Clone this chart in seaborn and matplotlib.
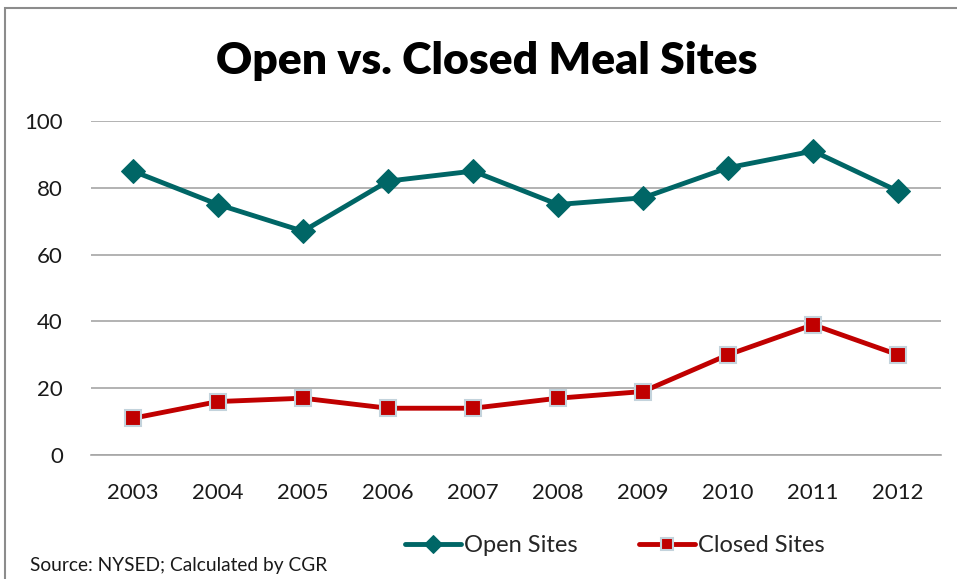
import pandas as pd
import matplotlib.pyplot as plt
import seaborn as sns
from matplotlib.patches import Rectangle

# --- Data ---
years = [2003, 2004, 2005, 2006, 2007, 2008, 2009, 2010, 2011, 2012]
open_sites = [85, 75, 67, 82, 85, 75, 77, 86, 91, 79]
closed_sites = [11, 16, 17, 14, 14, 17, 19, 30, 39, 30]

teal = '#006666'
red = '#C00000'

sns.set_theme(style='white')
plt.rcParams['font.family'] = ['Lato', 'DejaVu Sans']

fig = plt.figure(figsize=(9.57, 5.79), dpi=100)
ax = fig.add_axes([0.0946, 0.2142, 0.8882, 0.5768])

# outer chart frame (cut off at right and bottom like the source)
fig.patches.append(Rectangle((5 / 957, -0.1), 1.2, 1.1 - 8 / 579, transform=fig.transFigure,
                             fill=False, edgecolor='#8c8c8c', linewidth=1.5, zorder=0))

sns.lineplot(x=years, y=open_sites, ax=ax, color=teal, linewidth=3.5, marker='D',
             markersize=12, markeredgecolor=teal, label='Open Sites', zorder=3)
sns.lineplot(x=years, y=closed_sites, ax=ax, color=red, linewidth=3.5, marker='s',
             markersize=12, markeredgecolor='#c3d3dc', markeredgewidth=1.5,
             label='Closed Sites', zorder=3)

ax.set_xlim(2002.5, 2012.5)
ax.set_ylim(0, 100)
ax.set_yticks(range(0, 101, 20))
ax.set_xticks(years)
ax.set_xticklabels([str(y) for y in years])
ax.yaxis.grid(True, color='#a6a6a6', linewidth=1.2)
ax.xaxis.grid(False)
for s in ['top', 'right', 'left']:
    ax.spines[s].set_visible(False)
ax.spines['bottom'].set_color('#a6a6a6')
ax.spines['bottom'].set_linewidth(1.2)
ax.tick_params(axis='both', length=0, labelsize=16, colors='#1a1a1a')
ax.tick_params(axis='x', pad=20)
ax.tick_params(axis='y', pad=20)
ax.set_xlabel('')
ax.set_ylabel('')

fig.text(0.509, 0.895, 'Open vs. Closed Meal Sites', ha='center', va='center',
         fontsize=32, fontweight='heavy', color='black')

ax.get_legend().remove()
handles, labels = ax.get_legend_handles_labels()
fig.legend(handles, labels, loc='center', bbox_to_anchor=(0.642, 0.058), ncol=2,
           frameon=False, fontsize=17, handlelength=2.4, handletextpad=0.1,
           columnspacing=2.6, markerscale=0.75)

fig.text(30 / 957, 1 - 566 / 579, 'Source: NYSED; Calculated by CGR', ha='left',
         va='center', fontsize=13.8, color='#1a1a1a')

fig.savefig('out.png', dpi=100)
